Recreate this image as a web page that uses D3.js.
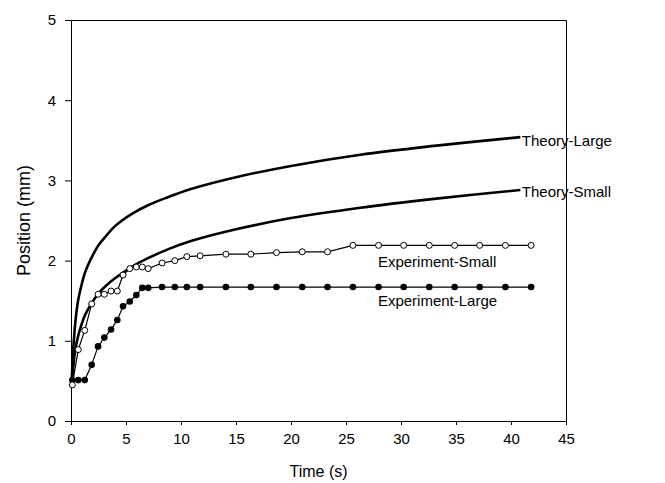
<!DOCTYPE html>
<html>
<head>
<meta charset="utf-8">
<script src="https://cdn.jsdelivr.net/npm/d3@7"></script>
<style>
  html, body { margin: 0; padding: 0; background: #fff; }
  svg { display: block; }
  text { font-family: Arial, "Liberation Sans", Helvetica, sans-serif; fill: #000; }
</style>
</head>
<body>
<svg id="chart" width="665" height="483"></svg>
<script>
// ---- data ----
const xTicks = [0, 5, 10, 15, 20, 25, 30, 35, 40, 45];
const yTicks = [0, 1, 2, 3, 4, 5];

const theoryTime  = [0.05, 0.12, 0.21, 0.3, 0.43, 0.67, 0.95, 1.27, 1.88, 2.49, 3.2, 4.0, 5.5, 7.0, 8.8, 10.83, 15, 20, 26.3, 33, 40.85];
const theoryLarge = [0.45, 0.67, 0.91, 1.08, 1.28, 1.52, 1.69, 1.85, 2.04, 2.19, 2.31, 2.43, 2.58, 2.69, 2.79, 2.89, 3.04, 3.18, 3.32, 3.43, 3.54];
const theorySmall = [0.45, 0.56, 0.68, 0.80, 0.92, 1.07, 1.20, 1.32, 1.47, 1.59, 1.69, 1.78, 1.92, 2.03, 2.14, 2.24, 2.39, 2.53, 2.66, 2.77, 2.88];

const expTime = [0.12, 0.66, 1.25, 1.88, 2.46, 3.03, 3.64, 4.21, 4.73, 5.34, 5.94, 6.48, 7.02,
                 8.28, 9.44, 10.53, 11.74, 14.08, 16.35, 18.68, 21.02, 23.32, 25.63, 27.96,
                 30.24, 32.57, 34.88, 37.15, 39.49, 41.83];
const expSmall = [0.45, 0.89, 1.13, 1.46, 1.58, 1.58, 1.62, 1.62, 1.82, 1.90, 1.92, 1.92, 1.90,
                  1.97, 2.00, 2.05, 2.06, 2.08, 2.08, 2.10, 2.11, 2.11, 2.19, 2.19,
                  2.19, 2.19, 2.19, 2.19, 2.19, 2.19];
const expLarge = [0.51, 0.51, 0.51, 0.70, 0.93, 1.04, 1.14, 1.26, 1.43, 1.49, 1.57, 1.66, 1.66,
                  1.67, 1.67, 1.67, 1.67, 1.67, 1.67, 1.67, 1.67, 1.67, 1.67, 1.67,
                  1.67, 1.67, 1.67, 1.67, 1.67, 1.67];

const seriesLabels = ["Theory-Large", "Theory-Small", "Experiment-Small", "Experiment-Large"];

// ---- layout ----
const svg = d3.select("#chart");
const x = d3.scaleLinear().domain([0, 45]).range([71, 566]);
const y = d3.scaleLinear().domain([0, 5]).range([421, 20]);

// frame (top & right)
svg.append("path")
  .attr("d", `M${x(0)},${y(5) + 0.5}H${x(45) + 0.5}V${y(0)}`)
  .attr("fill", "none").attr("stroke", "#000").attr("stroke-width", 1);

// axes
const xAxis = svg.append("g").attr("transform", `translate(0,${y(0)})`)
  .call(d3.axisBottom(x).tickValues(xTicks).tickFormat(d3.format("d")).tickSizeOuter(0).tickSizeInner(4).tickPadding(8));
const yAxis = svg.append("g").attr("transform", `translate(${x(0)},0)`)
  .call(d3.axisLeft(y).tickValues(yTicks).tickFormat(d3.format("d")).tickSizeOuter(0).tickSizeInner(6).tickPadding(9));
[xAxis, yAxis].forEach(g => {
  g.select(".domain").attr("stroke", "#000");
  g.selectAll(".tick line").attr("stroke", "#000");
  g.selectAll(".tick text").attr("font-size", 15).attr("font-family", "Arial, 'Liberation Sans', sans-serif").attr("fill", "#000");
});

svg.append("text").attr("x", (x(0) + x(45)) / 2).attr("y", 477)
  .attr("text-anchor", "middle").attr("font-size", 16).text("Time (s)");
svg.append("text").attr("transform", `translate(30,${(y(0) + y(5)) / 2}) rotate(-90)`)
  .attr("text-anchor", "middle").attr("font-size", 18).text("Position (mm)");

// theory curves
const thLine = d3.line().x(d => x(d[0])).y(d => y(d[1])).curve(d3.curveCatmullRom.alpha(0.5));
const thL = theoryTime.map((t, i) => [t, theoryLarge[i]]);
const thS = theoryTime.map((t, i) => [t, theorySmall[i]]);
[thL, thS].forEach(d => svg.append("path").attr("d", thLine(d))
  .attr("fill", "none").attr("stroke", "#000").attr("stroke-width", 2.6).attr("stroke-linejoin", "round"));

// experiment lines and markers
const exLine = d3.line().x(d => x(d[0])).y(d => y(d[1]));
const exS = expTime.map((t, i) => [t, expSmall[i]]);
const exL = expTime.map((t, i) => [t, expLarge[i]]);
[exS, exL].forEach(d => svg.append("path").attr("d", exLine(d))
  .attr("fill", "none").attr("stroke", "#000").attr("stroke-width", 1.2));

svg.append("g").selectAll("circle").data(exL).join("circle")
  .attr("cx", d => x(d[0])).attr("cy", d => y(d[1])).attr("r", 3.3)
  .attr("fill", "#000");
svg.append("g").selectAll("circle").data(exS).join("circle")
  .attr("cx", d => x(d[0])).attr("cy", d => y(d[1])).attr("r", 3.0)
  .attr("fill", "#fff").attr("stroke", "#000").attr("stroke-width", 1);

// labels
const lastL = thL[thL.length - 1], lastS = thS[thS.length - 1];
svg.append("text").attr("x", x(lastL[0]) + 1.5).attr("y", y(lastL[1]) + 9)
  .attr("font-size", 15).text(seriesLabels[0]);
svg.append("text").attr("x", x(lastS[0]) + 1.5).attr("y", y(lastS[1]) + 6.5)
  .attr("font-size", 15).text(seriesLabels[1]);
svg.append("text").attr("x", x(27.9)).attr("y", y(2.19) + 22)
  .attr("font-size", 15).text(seriesLabels[2]);
svg.append("text").attr("x", x(27.9)).attr("y", y(1.67) + 19)
  .attr("font-size", 15).text(seriesLabels[3]);
</script>
</body>
</html>
